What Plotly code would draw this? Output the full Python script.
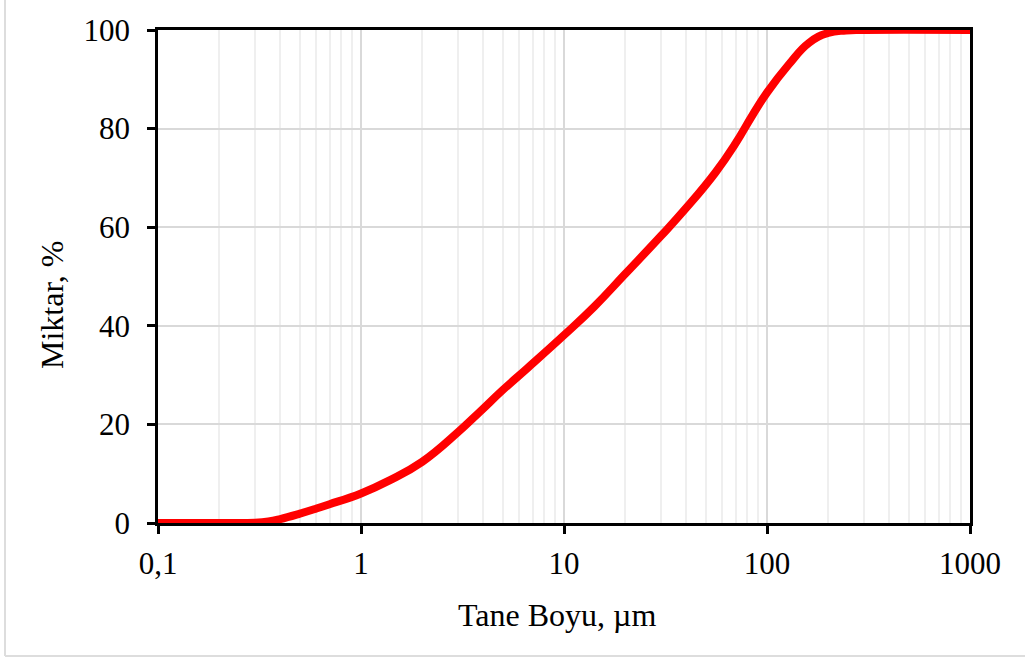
import plotly.graph_objects as go

# Particle size distribution (cumulative)
size_um = [0.1, 0.2, 0.3, 0.35, 0.4, 0.5, 0.6, 0.7, 1, 1.39, 2, 3, 3.86, 5, 6.6, 10, 14.1, 20, 30, 40, 55.5, 70, 85, 100, 128, 161, 200, 245, 300, 1000]
cum_pct = [0, 0, 0.05, 0.3, 0.8, 1.9, 2.9, 3.8, 6.0, 8.7, 12.4, 18.4, 22.6, 27, 31.4, 38.1, 43.9, 50.5, 58.2, 63.9, 71.0, 77.0, 82.8, 87.3, 93, 97.4, 99.4, 99.9, 100, 100]

x_tickvals = [0.1, 1, 10, 100, 1000]
x_ticktext = ["0,1", "1", "10", "100", "1000"]
y_tickvals = [0, 20, 40, 60, 80, 100]
x_title = "Tane Boyu, µm"
y_title = "Miktar, %"

minor_vals = [m * d for d in (0.1, 1, 10, 100) for m in range(2, 10)]

FONT = "Liberation Serif, Times New Roman, serif"

fig = go.Figure()
fig.add_trace(go.Scatter(
    x=size_um, y=cum_pct, mode="lines",
    line=dict(color="#ff0000", width=8, shape="spline", smoothing=1.3),
    hoverinfo="skip", showlegend=False,
))

fig.update_layout(
    width=1025, height=660,
    margin=dict(l=158, r=55, t=30, b=137),
    paper_bgcolor="white", plot_bgcolor="white",
    font=dict(family=FONT, size=31, color="black"),
    showlegend=False,
)

fig.update_xaxes(
    type="log", range=[-1, 3],
    tickmode="array", tickvals=x_tickvals, ticktext=x_ticktext,
    ticks="outside", ticklen=8, tickwidth=2.5, tickcolor="black",
    showline=True, linecolor="black", linewidth=2.5, mirror=True,
    showgrid=True, gridcolor="#d9d9d9", gridwidth=2,
    minor=dict(tickmode="array", tickvals=minor_vals, showgrid=True,
               gridcolor="#efefef", gridwidth=2, ticks=""),
    ticklabelstandoff=3,
    tickfont=dict(family=FONT, size=31),
    zeroline=False,
)
fig.update_yaxes(
    range=[0, 100], tickmode="array", tickvals=y_tickvals,
    ticks="outside", ticklen=8, tickwidth=2.5, tickcolor="black",
    showline=True, linecolor="black", linewidth=2.5, mirror=True,
    showgrid=True, gridcolor="#d9d9d9", gridwidth=2,
    ticklabelstandoff=11,
    tickfont=dict(family=FONT, size=31),
    zeroline=False,
)

fig.add_annotation(text=x_title, xref="paper", yref="paper",
                   x=(557 - 158) / 812, y=(523 - 615) / 493,
                   showarrow=False, font=dict(family=FONT, size=32),
                   xanchor="center", yanchor="middle")
fig.add_annotation(text=y_title, xref="paper", yref="paper",
                   x=(52 - 158) / 812, y=(523 - 305) / 493,
                   textangle=-90, showarrow=False, font=dict(family=FONT, size=32),
                   xanchor="center", yanchor="middle")

# light outer frame (left and bottom edges visible)
fig.add_shape(type="line", xref="paper", yref="paper",
              x0=(5 - 158) / 812, x1=(5 - 158) / 812,
              y0=(523 + 10) / 493, y1=(523 - 656) / 493,
              line=dict(color="#dddddd", width=2))
fig.add_shape(type="line", xref="paper", yref="paper",
              x0=(5 - 158) / 812, x1=(1030 - 158) / 812,
              y0=(523 - 656) / 493, y1=(523 - 656) / 493,
              line=dict(color="#dddddd", width=2))

fig.write_html("out.html")
